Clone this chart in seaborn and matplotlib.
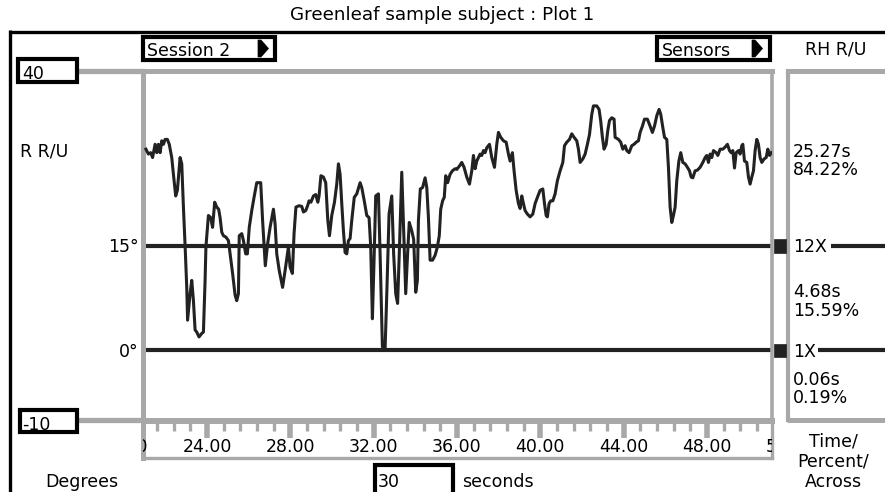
import matplotlib
matplotlib.use("Agg")
import matplotlib.pyplot as plt
from matplotlib.patches import Rectangle, Polygon
import numpy as np
import pandas as pd
import seaborn as sns

# ---------------- data ----------------
time_s = [
    21.07, 21.19, 21.30, 21.39, 21.51, 21.59, 21.67, 21.75, 21.83, 21.91,
    21.99, 22.10, 22.19, 22.31, 22.39, 22.50, 22.58, 22.71, 22.79, 22.87,
    22.95, 23.03, 23.07, 23.19, 23.27, 23.35, 23.43, 23.51, 23.62, 23.75,
    23.83, 23.91, 23.95, 24.07, 24.18, 24.27, 24.37, 24.47, 24.56, 24.63,
    24.71, 24.79, 24.91, 25.03, 25.11, 25.23, 25.35, 25.43, 25.51, 25.55,
    25.67, 25.75, 25.86, 25.94, 26.03, 26.15, 26.26, 26.39, 26.58, 26.67,
    26.80, 26.91, 27.03, 27.19, 27.27, 27.35, 27.47, 27.63, 27.75, 27.91,
    27.99, 28.10, 28.18, 28.27,
    28.42, 28.55, 28.63, 28.74, 28.83, 28.90, 28.99, 29.11, 29.22, 29.32,
    29.38, 29.47, 29.59, 29.70, 29.80, 29.88, 29.99, 30.12, 30.23, 30.31,
    30.39, 30.47, 30.55, 30.63, 30.71, 30.79, 30.87, 30.95, 31.07, 31.19,
    31.35, 31.43, 31.55, 31.67, 31.78, 31.86, 31.94, 32.02, 32.10, 32.23,
    32.31, 32.42, 32.55, 32.64, 32.74, 32.87, 32.96, 33.06, 33.15, 33.23,
    33.35, 33.44, 33.54, 33.63, 33.71, 33.83, 33.92, 34.02, 34.10, 34.15,
    34.24, 34.35, 34.47, 34.55, 34.63, 34.71, 34.83, 34.95, 35.06, 35.15,
    35.22, 35.31, 35.39, 35.46, 35.55, 35.67, 35.78, 35.91,
    35.99, 36.12, 36.23, 36.34, 36.47, 36.60, 36.71, 36.79, 36.87, 36.95,
    37.03, 37.11, 37.19, 37.27, 37.35, 37.43, 37.56, 37.67, 37.80, 37.91,
    37.99, 38.10, 38.23, 38.36, 38.47, 38.55, 38.66, 38.74, 38.84, 38.95,
    39.03, 39.11, 39.19, 39.27, 39.38, 39.51, 39.64, 39.75, 39.86, 39.99,
    40.12, 40.20, 40.28, 40.34, 40.42, 40.50, 40.60, 40.71, 40.82, 40.95,
    41.08, 41.16, 41.27, 41.40, 41.51, 41.62, 41.75, 41.83, 41.91, 42.04,
    42.15, 42.26, 42.36, 42.47, 42.55, 42.71, 42.82, 42.90, 42.98, 43.06,
    43.16, 43.24, 43.32, 43.43, 43.54,
    43.59, 43.75, 43.86, 43.96, 44.07, 44.15, 44.26, 44.39, 44.50, 44.60,
    44.71, 44.79, 44.90, 45.00, 45.14, 45.27, 45.38, 45.48, 45.59, 45.70,
    45.78, 45.88, 45.96, 46.07, 46.15, 46.23, 46.31, 46.39, 46.47, 46.55,
    46.65, 46.74, 46.84, 46.95, 47.06, 47.16, 47.24, 47.32, 47.43, 47.54,
    47.67, 47.80, 47.91, 47.99, 48.07, 48.15, 48.23, 48.31, 48.44, 48.52,
    48.63, 48.76, 48.87, 48.98, 49.08, 49.16, 49.24, 49.32, 49.40, 49.51,
    49.59, 49.67, 49.72, 49.80, 49.91, 49.99, 50.07, 50.15, 50.23, 50.31,
    50.39, 50.47, 50.55, 50.63, 50.74, 50.84, 50.92, 51.00, 51.09,
]
angle_deg = [
    28.8, 28.1, 28.3, 27.6, 29.5, 28.3, 29.5, 28.3, 30.0, 29.5,
    30.2, 30.2, 29.5, 27.6, 25.2, 22.1, 22.9, 27.6, 26.7, 20.5,
    15.0, 9.0, 4.3, 8.1, 10.0, 7.1, 2.9, 2.6, 1.9, 2.4,
    2.6, 10.0, 14.8, 19.3, 19.0, 17.6, 21.2, 20.5, 20.2, 19.0,
    16.9, 16.4, 16.2, 15.7, 13.8, 11.0, 7.9, 7.1, 8.1, 16.4,
    16.7, 15.7, 13.8, 13.8, 17.6, 20.0, 21.9, 24.0, 24.0, 18.6,
    12.1, 15.2, 17.6, 20.2, 18.1, 13.8, 11.4, 9.0, 11.4, 14.8,
    11.9, 11.0, 16.7, 20.5,
    20.7, 20.6, 19.8, 20.0, 20.7, 21.4, 21.2, 22.1, 22.3, 21.2,
    22.1, 25.0, 24.8, 24.0, 18.6, 16.4, 19.3, 21.2, 23.8, 26.7,
    25.2, 21.0, 17.1, 14.0, 13.8, 15.7, 16.0, 18.6, 21.9, 22.4,
    24.0, 23.3, 21.4, 19.3, 19.0, 14.8, 4.5, 12.9, 22.1, 22.4,
    13.8, 0.5, 0.2, 9.0, 19.5, 22.1, 13.8, 8.1, 6.7, 13.8,
    25.5, 17.1, 8.1, 13.8, 18.3, 17.1, 15.9, 8.3, 10.0, 18.6,
    23.1, 23.3, 24.7, 23.3, 19.0, 12.9, 12.9, 13.6, 14.8, 16.4,
    20.2, 21.4, 21.9, 25.0, 24.0, 25.2, 25.7, 26.0,
    25.9, 26.4, 26.9, 26.2, 24.8, 23.8, 25.7, 27.9, 26.0, 27.1,
    27.6, 28.1, 27.9, 28.6, 28.3, 29.0, 29.5, 27.6, 26.2, 29.5,
    31.2, 30.5, 30.0, 29.8, 28.1, 27.1, 28.3, 25.7, 22.9, 21.0,
    20.3, 22.1, 21.0, 20.0, 19.5, 19.1, 19.5, 21.0, 21.9, 22.9,
    23.1, 21.0, 19.3, 19.1, 21.0, 21.4, 21.4, 22.4, 24.3, 25.7,
    26.9, 29.3, 29.8, 30.2, 31.0, 30.5, 30.0, 28.8, 26.9, 27.4,
    28.1, 29.5, 30.9, 33.8, 35.0, 35.0, 34.5, 32.8, 30.5, 28.8,
    29.5, 31.5, 32.9, 33.3, 33.1,
    30.5, 30.2, 29.8, 28.8, 29.3, 28.6, 28.3, 29.3, 29.5, 29.8,
    30.0, 31.2, 32.1, 33.1, 33.1, 32.1, 31.2, 32.1, 33.6, 34.5,
    33.8, 31.9, 30.5, 30.2, 26.2, 20.5, 18.3, 19.3, 20.5, 24.3,
    27.1, 28.3, 26.9, 26.7, 26.2, 25.7, 24.8, 24.7, 25.7, 25.8,
    26.2, 26.9, 27.6, 27.9, 26.9, 28.1, 27.6, 28.6, 28.3, 27.9,
    28.8, 28.8, 29.1, 29.5, 28.6, 28.3, 28.6, 26.1, 28.3, 28.6,
    28.1, 29.3, 29.5, 27.1, 26.9, 24.8, 23.8, 24.8, 25.7, 28.6,
    30.2, 29.5, 27.6, 26.9, 27.4, 27.6, 28.8, 27.9, 28.3,
]
x_range = (20.93, 51.12)          # 30 s window
y_range = (-10, 40)
tick_values = [20, 24, 28, 32, 36, 40, 44, 48, 52]
tick_labels = ["20.00", "24.00", "28.00", "32.00", "36.00", "40.00", "44.00", "48.00", "52.00"]
minor_step = 0.8
level_values = [15, 0]
level_labels = ["15°", "0°"]
gain_labels = ["12X", "1X"]
readout_time = ["25.27s", "4.68s", "0.06s"]
readout_pct = ["84.22%", "15.59%", "0.19%"]
window_seconds = "30"

df = pd.DataFrame({"t": time_s, "v": angle_deg})

# ---------------- figure ----------------
plt.rcParams['font.family'] = ['DejaVu Sans']
W, H = 885, 492
fig = plt.figure(figsize=(W / 100, H / 100), dpi=100)
GRAY = '#a8a8a8'
INK = '#222222'
FS = 12.5

def fx(px):
    return px / W

def fy(py):
    return 1 - py / H

bg = fig.add_axes([0, 0, 1, 1])
bg.set_xlim(0, W)
bg.set_ylim(H, 0)
bg.axis('off')

def txt(x, y, s, ha='left', fs=FS):
    bg.text(x, y, s, fontsize=fs, ha=ha, va='baseline', color='black', zorder=5)

# outer black frame
bg.plot([10, W], [31.5, 31.5], color='black', lw=2.4, solid_capstyle='butt')
bg.plot([10, 10], [30.3, H], color='black', lw=2.4, solid_capstyle='butt')

# gray frame extensions toward the range boxes
bg.plot([77, 145], [71, 71], color=GRAY, lw=3.8, solid_capstyle='butt')
bg.plot([77, 145], [420, 420], color=GRAY, lw=3.8, solid_capstyle='butt')

# right readout panel
bg.plot([788, 788], [69, 421.5], color=GRAY, lw=3.0, solid_capstyle='butt')
bg.plot([786.5, W], [71, 71], color=GRAY, lw=3.6, solid_capstyle='butt')
bg.plot([786.5, W], [420, 420], color=GRAY, lw=3.6, solid_capstyle='butt')

# boxes
def box(x0, y0, x1, y1):
    bg.add_patch(Rectangle((x0, y0), x1 - x0, y1 - y0, fc='white', ec='black', lw=3, zorder=4))

box(142.7, 37, 275.3, 59.7)
box(657, 37, 769.7, 59.7)
box(18, 58.7, 77, 82)
box(20, 409.7, 76.5, 432)
box(375, 465.3, 453, 510)

# popup arrows
bg.add_patch(Polygon([(258, 40), (261, 40), (268.5, 48.5), (261, 57), (258, 57)], closed=True,
                     fc='black', ec='black', lw=0.5, zorder=6))
bg.add_patch(Polygon([(752, 40), (755, 40), (762.5, 48.5), (755, 57), (752, 57)], closed=True,
                     fc='black', ec='black', lw=0.5, zorder=6))

# texts
txt(442, 20, "Greenleaf sample subject : Plot 1", ha='center', fs=13.2)
txt(147.3, 56, "Session 2")
txt(661.7, 56, "Sensors")
txt(836, 55, "RH R/U", ha='center')
txt(21.7, 79, "40")
txt(20, 157, "R R/U")
txt(22, 430, "-10")
txt(45, 487, "Degrees")
txt(377.7, 487, window_seconds)
txt(461.7, 487, "seconds")
txt(833.5, 446.7, "Time/", ha='center')
txt(833.5, 467, "Percent/", ha='center')
txt(833.5, 487, "Across", ha='center')

# ---------------- data axes ----------------
ax_l, ax_r, ax_t, ax_b = 143, 772, 71, 420
ax = fig.add_axes([fx(ax_l), fy(ax_b), (ax_r - ax_l) / W, (ax_b - ax_t) / H])
ax.set_facecolor('white')
for lv in level_values:
    ax.axhline(lv, color=INK, lw=3.0, zorder=1)
sns.lineplot(data=df, x="t", y="v", ax=ax, color=INK, linewidth=2.2,
             estimator=None, sort=False, zorder=3)
ax.set_xticks([])
ax.set_yticks([])
ax.set_xlim(*x_range)
ax.set_ylim(*y_range)
ax.set_xlabel("")
ax.set_ylabel("")
for sp in ax.spines.values():
    sp.set_color(GRAY)
    sp.set_linewidth(3.6)
ax.spines['right'].set_linewidth(2.6)

def ypix(v):
    return ax_t + (y_range[1] - v) / (y_range[1] - y_range[0]) * (ax_b - ax_t)

# level labels, gain markers and continuation lines
cont_start = [830.7, 818]
for lv, ll, gl, cs in zip(level_values, level_labels, gain_labels, cont_start):
    yp = ypix(lv)
    txt(139, yp + 6.5, ll, ha='right')
    bg.add_patch(Rectangle((774, yp - 6.5), 12, 13.5, fc=INK, ec=INK, lw=0.5, zorder=6))
    txt(793, yp + 7, gl)
    bg.plot([cs, W], [yp, yp], color=INK, lw=3.0, solid_capstyle='butt')

# readouts
readout_base = [157, 297.3, 385]
for rt, rp, yb in zip(readout_time, readout_pct, readout_base):
    txt(792.7, yb, rt)
    txt(792.7, yb + 18.3, rp)

# ---------------- time strip ----------------
st_t, st_b = 421, 458
st = fig.add_axes([fx(ax_l), fy(st_b), (ax_r - ax_l) / W, (st_b - st_t) / H])
st.set_yticks([])
st.xaxis.set_ticks_position('top')
st.set_xticks(tick_values)
st.set_xticks(np.arange(tick_values[0], tick_values[-1] + 0.01, minor_step), minor=True)
st.set_xlim(*x_range)
st.set_ylim(0, 1)
st.tick_params(axis='x', which='major', direction='in', length=12, width=4.0, color=GRAY,
               labeltop=False, labelbottom=False)
st.tick_params(axis='x', which='minor', direction='in', length=7, width=2.4, color=GRAY,
               labeltop=False, labelbottom=False)
for sp in st.spines.values():
    sp.set_color(GRAY)
st.spines['top'].set_linewidth(3.6)
st.spines['left'].set_linewidth(3.6)
st.spines['bottom'].set_linewidth(2.4)
st.spines['right'].set_linewidth(2.4)
base_frac = (st_b - 451.7) / (st_b - st_t)
for tv, tl in zip(tick_values, tick_labels):
    st.text(tv, base_frac, tl, fontsize=FS, ha='center', va='baseline', clip_on=True)

fig.savefig("out.png", dpi=100)
